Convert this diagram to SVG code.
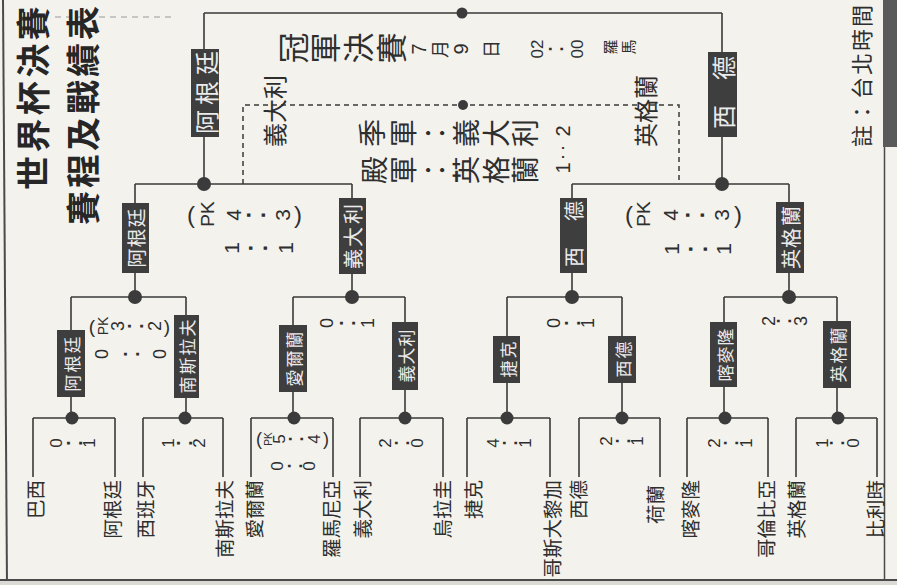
<svg xmlns="http://www.w3.org/2000/svg" width="897" height="585" viewBox="0 0 897 585">
<style>
.ln{stroke:#3a3a3a;stroke-width:1.6;fill:none}
.dash{stroke:#3a3a3a;stroke-width:1.5;fill:none;stroke-dasharray:5 4}
.dot{fill:#3b3b3b}
.box{fill:#3e3e3e}
.k{font-family:"Noto Sans CJK TC","Noto Sans CJK SC",sans-serif;fill:#2e2e2e;text-anchor:middle;dominant-baseline:central}
.bt{font-family:"Noto Sans CJK TC","Noto Sans CJK SC",sans-serif;fill:#ebebeb;text-anchor:middle;dominant-baseline:central}
.d{font-family:"Liberation Sans","Noto Sans CJK TC",sans-serif;fill:#2e2e2e;text-anchor:middle;dominant-baseline:central}
.nm{font-family:"Noto Sans CJK TC","Noto Sans CJK SC",sans-serif;fill:#2e2e2e;font-size:19.5px;text-anchor:end;dominant-baseline:central}
.ttl{font-family:"Noto Sans CJK TC","Noto Sans CJK SC",sans-serif;fill:#262626;font-weight:700;font-size:34px;dominant-baseline:central}
</style>
<rect width="897" height="585" fill="#f3f2ed"/>
<g id="frame">
<line x1="3" y1="0" x2="7" y2="585" stroke="#4a4a4a" stroke-width="2"/>
<rect x="0" y="581" width="897" height="4" fill="#dcdad4"/>
<line x1="0" y1="580" x2="897" y2="580" stroke="#4a4a4a" stroke-width="2"/>
<rect x="883" y="0" width="14" height="147" fill="#5a5a5a"/>
<line x1="884.5" y1="147" x2="884.5" y2="580" stroke="#4a4a4a" stroke-width="1.5"/>
<line x1="55" y1="17" x2="175" y2="17" stroke="#b8b8b8" stroke-width="1.5" stroke-dasharray="6 5"/>
</g>
<g id="title">
<text class="ttl" letter-spacing="3.4" transform="translate(31,190) rotate(-90)">世界杯決賽</text>
<text class="ttl" letter-spacing="3" transform="translate(81,225) rotate(-90)">賽程及戰績表</text>
<text class="k" font-size="22" letter-spacing="2" style="text-anchor:start" transform="translate(860,147) rotate(-90)">註：台北時間</text>
</g>
<g id="connectors">
<path class="ln" d="M204,13 H722 M204,13 V184 M722,13 V184"/>
<path class="ln" d="M135,184 H352 M572,184 H789 M135,184 V297 M352,184 V297 M572,184 V297 M789,184 V297"/>
<path class="ln" d="M71,297 H186 M293,297 H405 M507,297 H622 M724,297 H837"/>
<path class="ln" d="M71,297 V418 M186,297 V418 M293,297 V418 M405,297 V418 M507,297 V418 M622,297 V418 M724,297 V418 M837,297 V418"/>
<path class="ln" d="M33,418 H115 M143,418 H223 M251,418 H333 M360,418 H443 M467,418 H550 M579,418 H660 M687,418 H768 M796,418 H877"/>
<path class="ln" d="M33,418 V477 M115,418 V477 M143,418 V477 M223,418 V477 M251,418 V477 M333,418 V477 M360,418 V477 M443,418 V477 M467,418 V477 M550,418 V477 M579,418 V477 M660,418 V477 M687,418 V477 M768,418 V477 M796,418 V477 M877,418 V477"/>
<path class="dash" d="M243,184 V105 H679 V184"/>
<circle class="dot" cx="462" cy="13" r="5.5"/>
<circle class="dot" cx="463" cy="105" r="5"/>
<circle class="dot" cx="204" cy="184" r="7"/>
<circle class="dot" cx="722" cy="184" r="7"/>
<circle class="dot" cx="135" cy="297" r="7"/>
<circle class="dot" cx="352" cy="297" r="7"/>
<circle class="dot" cx="572" cy="297" r="7"/>
<circle class="dot" cx="789" cy="297" r="7"/>
<circle class="dot" cx="72" cy="418" r="6.5"/>
<circle class="dot" cx="185" cy="418" r="6.5"/>
<circle class="dot" cx="294" cy="418" r="6.5"/>
<circle class="dot" cx="405" cy="418" r="6.5"/>
<circle class="dot" cx="507" cy="418" r="6.5"/>
<circle class="dot" cx="622" cy="418" r="6.5"/>
<circle class="dot" cx="725" cy="418" r="6.5"/>
<circle class="dot" cx="838" cy="418" r="6.5"/>
</g>
<g id="final-argentina">
<rect class="box" x="191" y="49" width="28" height="88"/>
<text class="bt" font-size="24" transform="translate(205,122) rotate(-90)">阿</text>
<text class="bt" font-size="24" transform="translate(205,93) rotate(-90)">根</text>
<text class="bt" font-size="24" transform="translate(205,63) rotate(-90)">廷</text>
</g>
<g id="final-westgermany">
<rect class="box" x="708" y="52" width="29" height="85"/>
<text class="bt" font-size="24" transform="translate(722,117) rotate(-90)">西</text>
<text class="bt" font-size="24" transform="translate(722,68) rotate(-90)">德</text>
</g>
<g id="sf-argentina">
<rect class="box" x="122" y="203" width="27" height="70"/>
<text class="bt" font-size="19" transform="translate(135,258) rotate(-90)">阿</text>
<text class="bt" font-size="19" transform="translate(135,238) rotate(-90)">根</text>
<text class="bt" font-size="19" transform="translate(135,218) rotate(-90)">廷</text>
</g>
<g id="sf-italy">
<rect class="box" x="339" y="198" width="27" height="76"/>
<text class="bt" font-size="20" transform="translate(352,259) rotate(-90)">義</text>
<text class="bt" font-size="20" transform="translate(352,237) rotate(-90)">大</text>
<text class="bt" font-size="20" transform="translate(352,214) rotate(-90)">利</text>
</g>
<g id="sf-westgermany">
<rect class="box" x="560" y="198" width="27" height="75"/>
<text class="bt" font-size="20" transform="translate(573,257) rotate(-90)">西</text>
<text class="bt" font-size="20" transform="translate(573,211) rotate(-90)">德</text>
</g>
<g id="sf-england">
<rect class="box" x="776" y="202" width="28" height="71"/>
<text class="bt" font-size="20" transform="translate(790,259) rotate(-90)">英</text>
<text class="bt" font-size="20" transform="translate(790,238) rotate(-90)">格</text>
<text class="bt" font-size="20" transform="translate(790,216) rotate(-90)">蘭</text>
</g>
<g id="qf-argentina">
<rect class="box" x="57" y="330" width="28" height="67"/>
<text class="bt" font-size="17" transform="translate(71,383) rotate(-90)">阿</text>
<text class="bt" font-size="17" transform="translate(71,364) rotate(-90)">根</text>
<text class="bt" font-size="17" transform="translate(71,345) rotate(-90)">廷</text>
</g>
<g id="qf-yugoslavia">
<rect class="box" x="174" y="315" width="25" height="83"/>
<text class="bt" font-size="17" transform="translate(186,385) rotate(-90)">南</text>
<text class="bt" font-size="17" transform="translate(186,366) rotate(-90)">斯</text>
<text class="bt" font-size="17" transform="translate(186,347) rotate(-90)">拉</text>
<text class="bt" font-size="17" transform="translate(186,328) rotate(-90)">夫</text>
</g>
<g id="qf-ireland">
<rect class="box" x="279" y="325" width="28" height="67"/>
<text class="bt" font-size="17" transform="translate(293,378) rotate(-90)">愛</text>
<text class="bt" font-size="17" transform="translate(293,359) rotate(-90)">爾</text>
<text class="bt" font-size="17" transform="translate(293,340) rotate(-90)">蘭</text>
</g>
<g id="qf-italy">
<rect class="box" x="392" y="322" width="26" height="68"/>
<text class="bt" font-size="17" transform="translate(405,374) rotate(-90)">義</text>
<text class="bt" font-size="17" transform="translate(405,356) rotate(-90)">大</text>
<text class="bt" font-size="17" transform="translate(405,338) rotate(-90)">利</text>
</g>
<g id="qf-czech">
<rect class="box" x="493" y="336" width="27" height="47"/>
<text class="bt" font-size="17" transform="translate(507,369) rotate(-90)">捷</text>
<text class="bt" font-size="17" transform="translate(507,350) rotate(-90)">克</text>
</g>
<g id="qf-westgermany">
<rect class="box" x="608" y="336" width="28" height="47"/>
<text class="bt" font-size="17" transform="translate(622,369) rotate(-90)">西</text>
<text class="bt" font-size="17" transform="translate(622,350) rotate(-90)">德</text>
</g>
<g id="qf-cameroon">
<rect class="box" x="710" y="322" width="27" height="65"/>
<text class="bt" font-size="17" transform="translate(724,373) rotate(-90)">喀</text>
<text class="bt" font-size="17" transform="translate(724,355) rotate(-90)">麥</text>
<text class="bt" font-size="17" transform="translate(724,337) rotate(-90)">隆</text>
</g>
<g id="qf-england">
<rect class="box" x="823" y="321" width="28" height="67"/>
<text class="bt" font-size="17" transform="translate(837,374) rotate(-90)">英</text>
<text class="bt" font-size="17" transform="translate(837,355) rotate(-90)">格</text>
<text class="bt" font-size="17" transform="translate(837,336) rotate(-90)">蘭</text>
</g>
<g id="teams">
<text class="nm" transform="translate(34,480) rotate(-90)">巴西</text>
<text class="nm" transform="translate(111,480) rotate(-90)">阿根廷</text>
<text class="nm" transform="translate(144,480) rotate(-90)">西班牙</text>
<text class="nm" transform="translate(223,480) rotate(-90)">南斯拉夫</text>
<text class="nm" transform="translate(253,480) rotate(-90)">愛爾蘭</text>
<text class="nm" transform="translate(330,480) rotate(-90)">羅馬尼亞</text>
<text class="nm" transform="translate(361,480) rotate(-90)">義大利</text>
<text class="nm" transform="translate(441,480) rotate(-90)">烏拉圭</text>
<text class="nm" transform="translate(472,480) rotate(-90)">捷克</text>
<text class="nm" transform="translate(551,480) rotate(-90)">哥斯大黎加</text>
<text class="nm" transform="translate(577,480) rotate(-90)">西德</text>
<text class="nm" transform="translate(654,485) rotate(-90)">荷蘭</text>
<text class="nm" transform="translate(689,480) rotate(-90)">喀麥隆</text>
<text class="nm" transform="translate(765,480) rotate(-90)">哥倫比亞</text>
<text class="nm" transform="translate(795,480) rotate(-90)">英格蘭</text>
<text class="nm" transform="translate(874,480) rotate(-90)">比利時</text>
</g>
<g id="final-info">
<text class="k" font-size="31" transform="translate(291,48) rotate(-90)">冠</text>
<text class="k" font-size="31" transform="translate(323,48) rotate(-90)">軍</text>
<text class="k" font-size="31" transform="translate(356,48) rotate(-90)">決</text>
<text class="k" font-size="31" transform="translate(389,48) rotate(-90)">賽</text>
<text class="d" font-size="20" transform="translate(419,49) rotate(-90)">7</text>
<text class="k" font-size="18" transform="translate(439,49) rotate(-90)">月</text>
<text class="d" font-size="20" transform="translate(461,49) rotate(-90)">9</text>
<text class="k" font-size="18" transform="translate(490,49) rotate(-90)">日</text>
<text class="d" font-size="17" transform="translate(537,49) rotate(-90)">02</text>
<text class="d" font-size="26" transform="translate(554,49) rotate(-90)">:</text>
<text class="d" font-size="17" transform="translate(577,49) rotate(-90)">00</text>
<text class="k" font-size="15" transform="translate(609,47) rotate(-90)">羅</text>
<text class="k" font-size="15" transform="translate(627,47) rotate(-90)">馬</text>
</g>
<g id="third-place">
<text class="k" font-size="24" style="text-anchor:start" transform="translate(273,147) rotate(-90)">義大利</text>
<text class="k" font-size="24" style="text-anchor:start" transform="translate(644,147) rotate(-90)">英格蘭</text>
<text class="k" font-size="28" transform="translate(371,133) rotate(-90)">季</text>
<text class="k" font-size="28" transform="translate(402,133) rotate(-90)">軍</text>
<text class="k" font-size="28" transform="translate(434,133) rotate(-90)">：</text>
<text class="k" font-size="28" transform="translate(465,133) rotate(-90)">義</text>
<text class="k" font-size="28" transform="translate(495,133) rotate(-90)">大</text>
<text class="k" font-size="28" transform="translate(524,133) rotate(-90)">利</text>
<text class="k" font-size="28" transform="translate(373,170) rotate(-90)">殿</text>
<text class="k" font-size="28" transform="translate(402,170) rotate(-90)">軍</text>
<text class="k" font-size="28" transform="translate(434,170) rotate(-90)">：</text>
<text class="k" font-size="28" transform="translate(465,170) rotate(-90)">英</text>
<text class="k" font-size="28" transform="translate(495,170) rotate(-90)">格</text>
<text class="k" font-size="28" transform="translate(524,170) rotate(-90)">蘭</text>
<text class="d" font-size="20" transform="translate(563,131) rotate(-90)">2</text>
<text class="d" font-size="20" x="563" y="151">:</text>
<text class="d" font-size="20" transform="translate(563,168) rotate(-90)">1</text>
</g>
<g id="scores-sf">
<text class="d" font-size="24" x="191" y="214">(</text>
<text class="d" font-size="19" transform="translate(207,214) rotate(-90)">PK</text>
<text class="d" font-size="21" transform="translate(233,215) rotate(-90)">4</text>
<text class="d" font-size="34" transform="translate(253,215) rotate(-90)">:</text>
<text class="d" font-size="21" transform="translate(282,215) rotate(-90)">3</text>
<text class="d" font-size="24" x="298" y="214">)</text>
<text class="d" font-size="21" transform="translate(231,248) rotate(-90)">1</text>
<text class="d" font-size="34" transform="translate(255,248) rotate(-90)">:</text>
<text class="d" font-size="21" transform="translate(285,248) rotate(-90)">1</text>
<text class="d" font-size="24" x="629" y="214">(</text>
<text class="d" font-size="19" transform="translate(643,214) rotate(-90)">PK</text>
<text class="d" font-size="21" transform="translate(670,215) rotate(-90)">4</text>
<text class="d" font-size="34" transform="translate(692,215) rotate(-90)">:</text>
<text class="d" font-size="21" transform="translate(721,215) rotate(-90)">3</text>
<text class="d" font-size="24" x="738" y="214">)</text>
<text class="d" font-size="21" transform="translate(671,249) rotate(-90)">1</text>
<text class="d" font-size="34" transform="translate(695,249) rotate(-90)">:</text>
<text class="d" font-size="21" transform="translate(723,249) rotate(-90)">1</text>
</g>
<g id="scores-qf">
<text class="d" font-size="19" x="92" y="326">(</text>
<text class="d" font-size="14" transform="translate(103,326) rotate(-90)">PK</text>
<text class="d" font-size="18" transform="translate(118,326) rotate(-90)">3</text>
<text class="d" font-size="28" transform="translate(133,326) rotate(-90)">:</text>
<text class="d" font-size="18" transform="translate(155,326) rotate(-90)">2</text>
<text class="d" font-size="19" x="167" y="326">)</text>
<text class="d" font-size="18" transform="translate(102,354) rotate(-90)">0</text>
<text class="d" font-size="28" transform="translate(129,354) rotate(-90)">:</text>
<text class="d" font-size="18" transform="translate(160,354) rotate(-90)">0</text>
<text class="d" font-size="18" transform="translate(327,323) rotate(-90)">0</text>
<text class="d" font-size="28" transform="translate(345,323) rotate(-90)">:</text>
<text class="d" font-size="18" transform="translate(368,323) rotate(-90)">1</text>
<text class="d" font-size="18" transform="translate(554,323) rotate(-90)">0</text>
<text class="d" font-size="28" transform="translate(570,323) rotate(-90)">:</text>
<text class="d" font-size="18" transform="translate(588,323) rotate(-90)">1</text>
<text class="d" font-size="18" transform="translate(769,321) rotate(-90)">2</text>
<text class="d" font-size="26" transform="translate(782,321) rotate(-90)">:</text>
<text class="d" font-size="18" transform="translate(801,321) rotate(-90)">3</text>
</g>
<g id="scores-r16">
<text class="d" font-size="17" transform="translate(56,443) rotate(-90)">0</text>
<text class="d" font-size="28" transform="translate(72,443) rotate(-90)">:</text>
<text class="d" font-size="17" transform="translate(89,443) rotate(-90)">1</text>
<text class="d" font-size="17" transform="translate(168,443) rotate(-90)">1</text>
<text class="d" font-size="28" transform="translate(182,443) rotate(-90)">:</text>
<text class="d" font-size="17" transform="translate(199,443) rotate(-90)">2</text>
<text class="d" font-size="18" x="259" y="439">(</text>
<text class="d" font-size="10" transform="translate(268,439) rotate(-90)">PK</text>
<text class="d" font-size="17" transform="translate(279,439) rotate(-90)">5</text>
<text class="d" font-size="26" transform="translate(294,439) rotate(-90)">:</text>
<text class="d" font-size="17" transform="translate(314,439) rotate(-90)">4</text>
<text class="d" font-size="18" x="326" y="439">)</text>
<text class="d" font-size="17" transform="translate(277,466) rotate(-90)">0</text>
<text class="d" font-size="26" transform="translate(293,466) rotate(-90)">:</text>
<text class="d" font-size="17" transform="translate(309,466) rotate(-90)">0</text>
<text class="d" font-size="17" transform="translate(385,443) rotate(-90)">2</text>
<text class="d" font-size="26" transform="translate(400,443) rotate(-90)">:</text>
<text class="d" font-size="17" transform="translate(417,443) rotate(-90)">0</text>
<text class="d" font-size="17" transform="translate(493,443) rotate(-90)">4</text>
<text class="d" font-size="26" transform="translate(508,443) rotate(-90)">:</text>
<text class="d" font-size="17" transform="translate(525,443) rotate(-90)">1</text>
<text class="d" font-size="17" transform="translate(606,441) rotate(-90)">2</text>
<text class="d" font-size="26" transform="translate(621,441) rotate(-90)">:</text>
<text class="d" font-size="17" transform="translate(637,441) rotate(-90)">1</text>
<text class="d" font-size="17" transform="translate(714,443) rotate(-90)">2</text>
<text class="d" font-size="26" transform="translate(729,443) rotate(-90)">:</text>
<text class="d" font-size="17" transform="translate(746,443) rotate(-90)">1</text>
<text class="d" font-size="17" transform="translate(822,443) rotate(-90)">1</text>
<text class="d" font-size="26" transform="translate(835,443) rotate(-90)">:</text>
<text class="d" font-size="17" transform="translate(853,443) rotate(-90)">0</text>
</g>
</svg>
